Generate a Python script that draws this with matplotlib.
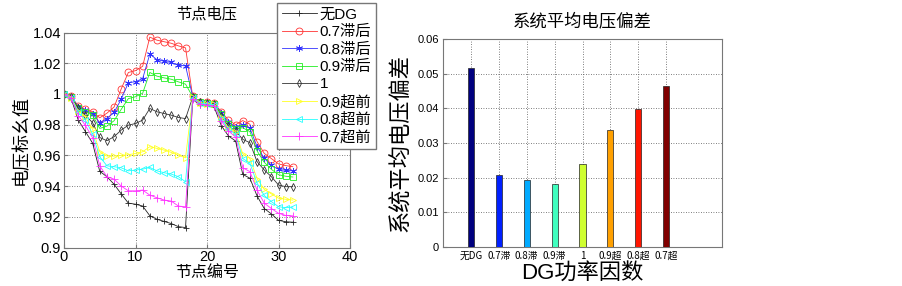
import matplotlib
matplotlib.use("Agg")
import matplotlib.pyplot as plt
import numpy as np

plt.rcParams['font.family'] = ['Liberation Sans', 'Noto Sans CJK SC', 'DejaVu Sans']

# ---------------- data ----------------
nodes = list(range(33))

v_nodg = [1.0, 0.997, 0.983, 0.9755, 0.968, 0.9497, 0.9462, 0.9413, 0.935, 0.929,
          0.9283, 0.9271, 0.9208, 0.9185, 0.9171, 0.9157, 0.9137, 0.9131,
          0.9965, 0.9929, 0.9922, 0.9916, 0.9794, 0.9727, 0.9694,
          0.9477, 0.9452, 0.9337, 0.9255, 0.9220, 0.9178, 0.9169, 0.9166]
v_07lag = [1.0, 0.9985, 0.9922, 0.990, 0.9885, 0.9845, 0.9875, 0.9915, 1.0033, 1.0140,
           1.0152, 1.0180, 1.0370, 1.0350, 1.0340, 1.0330, 1.0313, 1.0300,
           0.9985, 0.9950, 0.9945, 0.9940, 0.9885, 0.9830, 0.9800,
           0.9827, 0.9803, 0.9690, 0.9614, 0.9580, 0.9545, 0.9534, 0.9527]
v_08lag = [1.0, 0.9982, 0.9917, 0.9895, 0.9873, 0.9813, 0.9840, 0.9880, 0.9966, 1.0073,
           1.0080, 1.0100, 1.0259, 1.0224, 1.0213, 1.0205, 1.0187, 1.0183,
           0.9983, 0.9948, 0.9943, 0.9938, 0.9878, 0.9815, 0.9788,
           0.9799, 0.9777, 0.9658, 0.9582, 0.9535, 0.9510, 0.9503, 0.9500]
v_09lag = [1.0, 0.9980, 0.9912, 0.9884, 0.9862, 0.9776, 0.9791, 0.9826, 0.9900, 0.9970,
           0.9982, 1.0005, 1.0140, 1.0116, 1.0105, 1.0096, 1.0079, 1.0064,
           0.9982, 0.9947, 0.9942, 0.9937, 0.9870, 0.9805, 0.9775,
           0.9780, 0.9755, 0.9630, 0.9556, 0.9510, 0.9475, 0.9465, 0.9460]
v_unity = [1.0, 0.9980, 0.9906, 0.9862, 0.9813, 0.9717, 0.9696, 0.9722, 0.9765, 0.9797,
           0.9808, 0.9830, 0.9906, 0.9884, 0.9873, 0.9862, 0.9847, 0.9840,
           0.9980, 0.9945, 0.9940, 0.9935, 0.9855, 0.9790, 0.9760,
           0.9705, 0.9683, 0.9560, 0.9506, 0.9462, 0.9408, 0.9397, 0.9397]
v_09lead = [1.0, 0.9977, 0.9890, 0.9850, 0.9770, 0.9624, 0.9596, 0.9596, 0.9600, 0.9605,
            0.9613, 0.9624, 0.9657, 0.9646, 0.9635, 0.9620, 0.9602, 0.9585,
            0.9978, 0.9942, 0.9937, 0.9932, 0.9850, 0.9780, 0.9750,
            0.9610, 0.9580, 0.9450, 0.9380, 0.9350, 0.9322, 0.9315, 0.9310]
v_08lead = [1.0, 0.9975, 0.9880, 0.9830, 0.9740, 0.9592, 0.9533, 0.9527, 0.9520, 0.9500,
            0.9505, 0.9511, 0.9522, 0.9500, 0.9488, 0.9479, 0.9462, 0.9429,
            0.9975, 0.9940, 0.9934, 0.9929, 0.9840, 0.9770, 0.9740,
            0.9580, 0.9550, 0.9420, 0.9340, 0.9300, 0.9267, 0.9260, 0.9265]
v_07lead = [1.0, 0.9972, 0.9860, 0.9795, 0.9715, 0.9533, 0.9462, 0.9446, 0.9401, 0.9370,
            0.9370, 0.9375, 0.9342, 0.9325, 0.9310, 0.9303, 0.9271, 0.9266,
            0.9970, 0.9935, 0.9928, 0.9922, 0.9825, 0.9760, 0.9720,
            0.9520, 0.9495, 0.9375, 0.9290, 0.9255, 0.9224, 0.9210, 0.9207]

series_labels = ['无DG', '0.7滞后', '0.8滞后', '0.9滞后', '1', '0.9超前', '0.8超前', '0.7超前']

bar_labels = ['无DG', '0.7滞', '0.8滞', '0.9滞', '1', '0.9超', '0.8超', '0.7超']
bar_values = [0.0515, 0.0208, 0.0192, 0.0183, 0.0238, 0.0338, 0.0397, 0.0464]

# ---------------- styles ----------------
series = [v_nodg, v_07lag, v_08lag, v_09lag, v_unity, v_09lead, v_08lead, v_07lead]
colors = ['#222222', '#FF3333', '#3333FF', '#22EE22', '#333333', '#FFFF22', '#22FFFF', '#FF33FF']
markers = ['+', 'o', (6, 2, 0), 's', 'd', '>', '<', '+']
msizes = [4.5, 5, 5, 5, 4, 5, 5, 6]
bar_colors = ['#00007F', '#0020FF', '#00AAFF', '#40FFBF', '#CFFF30', '#FFA000', '#FF1500', '#800000']

W, H = 902, 286
fig = plt.figure(figsize=(W / 100, H / 100), dpi=100)
fig.patch.set_facecolor('white')

spine_col = '#777777'
grid_kw = dict(color='#555555', linestyle=(0, (1, 2)), linewidth=0.6)

# ---------------- left axes ----------------
ax1 = fig.add_axes([64 / W, 1 - 247.7 / H, (350 - 64) / W, (247.7 - 32.5) / H])
handles = []
for y, c, m, ms, lab in zip(series, colors, markers, msizes, series_labels):
    h, = ax1.plot(nodes, y, color=c, marker=m, markersize=ms, markerfacecolor='none',
                  markeredgecolor=c, markeredgewidth=0.6, linewidth=0.6, label=lab)
    handles.append(h)
ax1.set_xlim(0, 40)
ax1.set_ylim(0.9, 1.04)
ax1.set_xticks([0, 10, 20, 30, 40])
ax1.set_yticks([0.9, 0.92, 0.94, 0.96, 0.98, 1.0, 1.02, 1.04])
ax1.set_yticklabels(['0.9', '0.92', '0.94', '0.96', '0.98', '1', '1.02', '1.04'])
ax1.grid(True, **grid_kw)
ax1.tick_params(direction='in', length=3, labelsize=10.5, pad=2, color=spine_col)
for s in ax1.spines.values():
    s.set_color(spine_col)
ax1.set_title('节点电压', fontsize=11, pad=10)
ax1.set_xlabel('节点编号', fontsize=11.5, labelpad=0)
ax1.set_ylabel('电压标幺值', fontsize=13, labelpad=2)

leg = fig.legend(handles=handles, loc='upper left', bbox_to_anchor=(277 / W, 1 - 3 / H),
                 fontsize=11, frameon=True, fancybox=False, framealpha=1, edgecolor=spine_col,
                 handlelength=2.3, handletextpad=0.2, labelspacing=0.22, borderpad=0.3,
                 borderaxespad=0)
leg.get_frame().set_linewidth(1.0)

# ---------------- right axes ----------------
ax2 = fig.add_axes([443 / W, 1 - 247 / H, (722 - 443) / W, (247 - 39) / H])
xpos = np.arange(1, len(bar_values) + 1)
ax2.bar(xpos, bar_values, width=0.22, color=bar_colors, edgecolor='#222222', linewidth=0.5,
        zorder=3)
ax2.set_xlim(0, 10)
ax2.set_ylim(0, 0.06)
ax2.set_xticks(xpos)
ax2.set_xticklabels(bar_labels, fontsize=7,
                    family=['Liberation Sans Narrow', 'Noto Sans CJK SC', 'DejaVu Sans'])
ax2.set_yticks([0, 0.01, 0.02, 0.03, 0.04, 0.05, 0.06])
ax2.set_yticklabels(['0', '0.01', '0.02', '0.03', '0.04', '0.05', '0.06'], fontsize=8)
ax2.grid(True, **grid_kw)
ax2.set_axisbelow(True)
ax2.tick_params(direction='in', length=3, pad=3, color=spine_col)
for s in ax2.spines.values():
    s.set_color(spine_col)
ax2.set_title('系统平均电压偏差', fontsize=12.5, pad=9)
ax2.set_xlabel('DG功率因数', fontsize=16, labelpad=1)
ax2.set_ylabel('系统平均电压偏差', fontsize=16, labelpad=4)

fig.savefig('out.png', dpi=100)
